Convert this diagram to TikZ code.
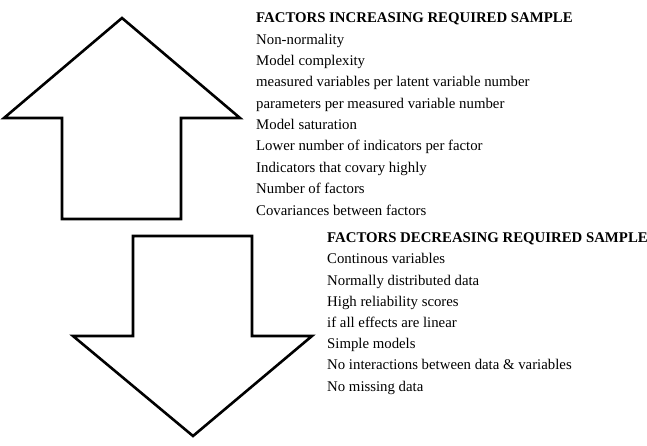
\documentclass[tikz,border=0pt]{standalone}
\usepackage{fontspec}
\setmainfont{Liberation Serif}
\begin{document}
\begin{tikzpicture}[x=1pt,y=-1pt,
  arrowshape/.style={draw=black,line width=2.6pt,line join=miter,fill=white},
  itemtext/.style={anchor=base west,inner sep=0pt,font=\fontsize{14.8}{17}\selectfont},
  headtext/.style={itemtext,font=\fontsize{14.8}{17}\selectfont\bfseries}]
\useasboundingbox (0,0) rectangle (647,446);
% up arrow
\draw[arrowshape] (122,18) -- (240,118) -- (181,118) -- (181,219) -- (62,219) -- (62,118) -- (4,118) -- cycle;
% down arrow
\draw[arrowshape] (133,236) -- (252,236) -- (252,336) -- (312,336) -- (193,436) -- (73,336) -- (133,336) -- cycle;
% upper list
\node[headtext] (h1) at (256,22.7) {FACTORS INCREASING REQUIRED SAMPLE};
\foreach \t [count=\i] in {Non-normality,Model complexity,measured variables per latent variable number,parameters per measured variable number,Model saturation,Lower number of indicators per factor,Indicators that covary highly,Number of factors,Covariances between factors}
  \node[itemtext] (u\i) at (256,22.7+21.37*\i) {\t};
% lower list
\node[headtext] (h2) at (327,242.7) {FACTORS DECREASING REQUIRED SAMPLE};
\foreach \t [count=\i] in {Continous variables,Normally distributed data,High reliability scores,if all effects are linear,Simple models,No interactions between data \& variables,No missing data}
  \node[itemtext] (d\i) at (327,242.7+21.2*\i) {\t};
\end{tikzpicture}
\end{document}
